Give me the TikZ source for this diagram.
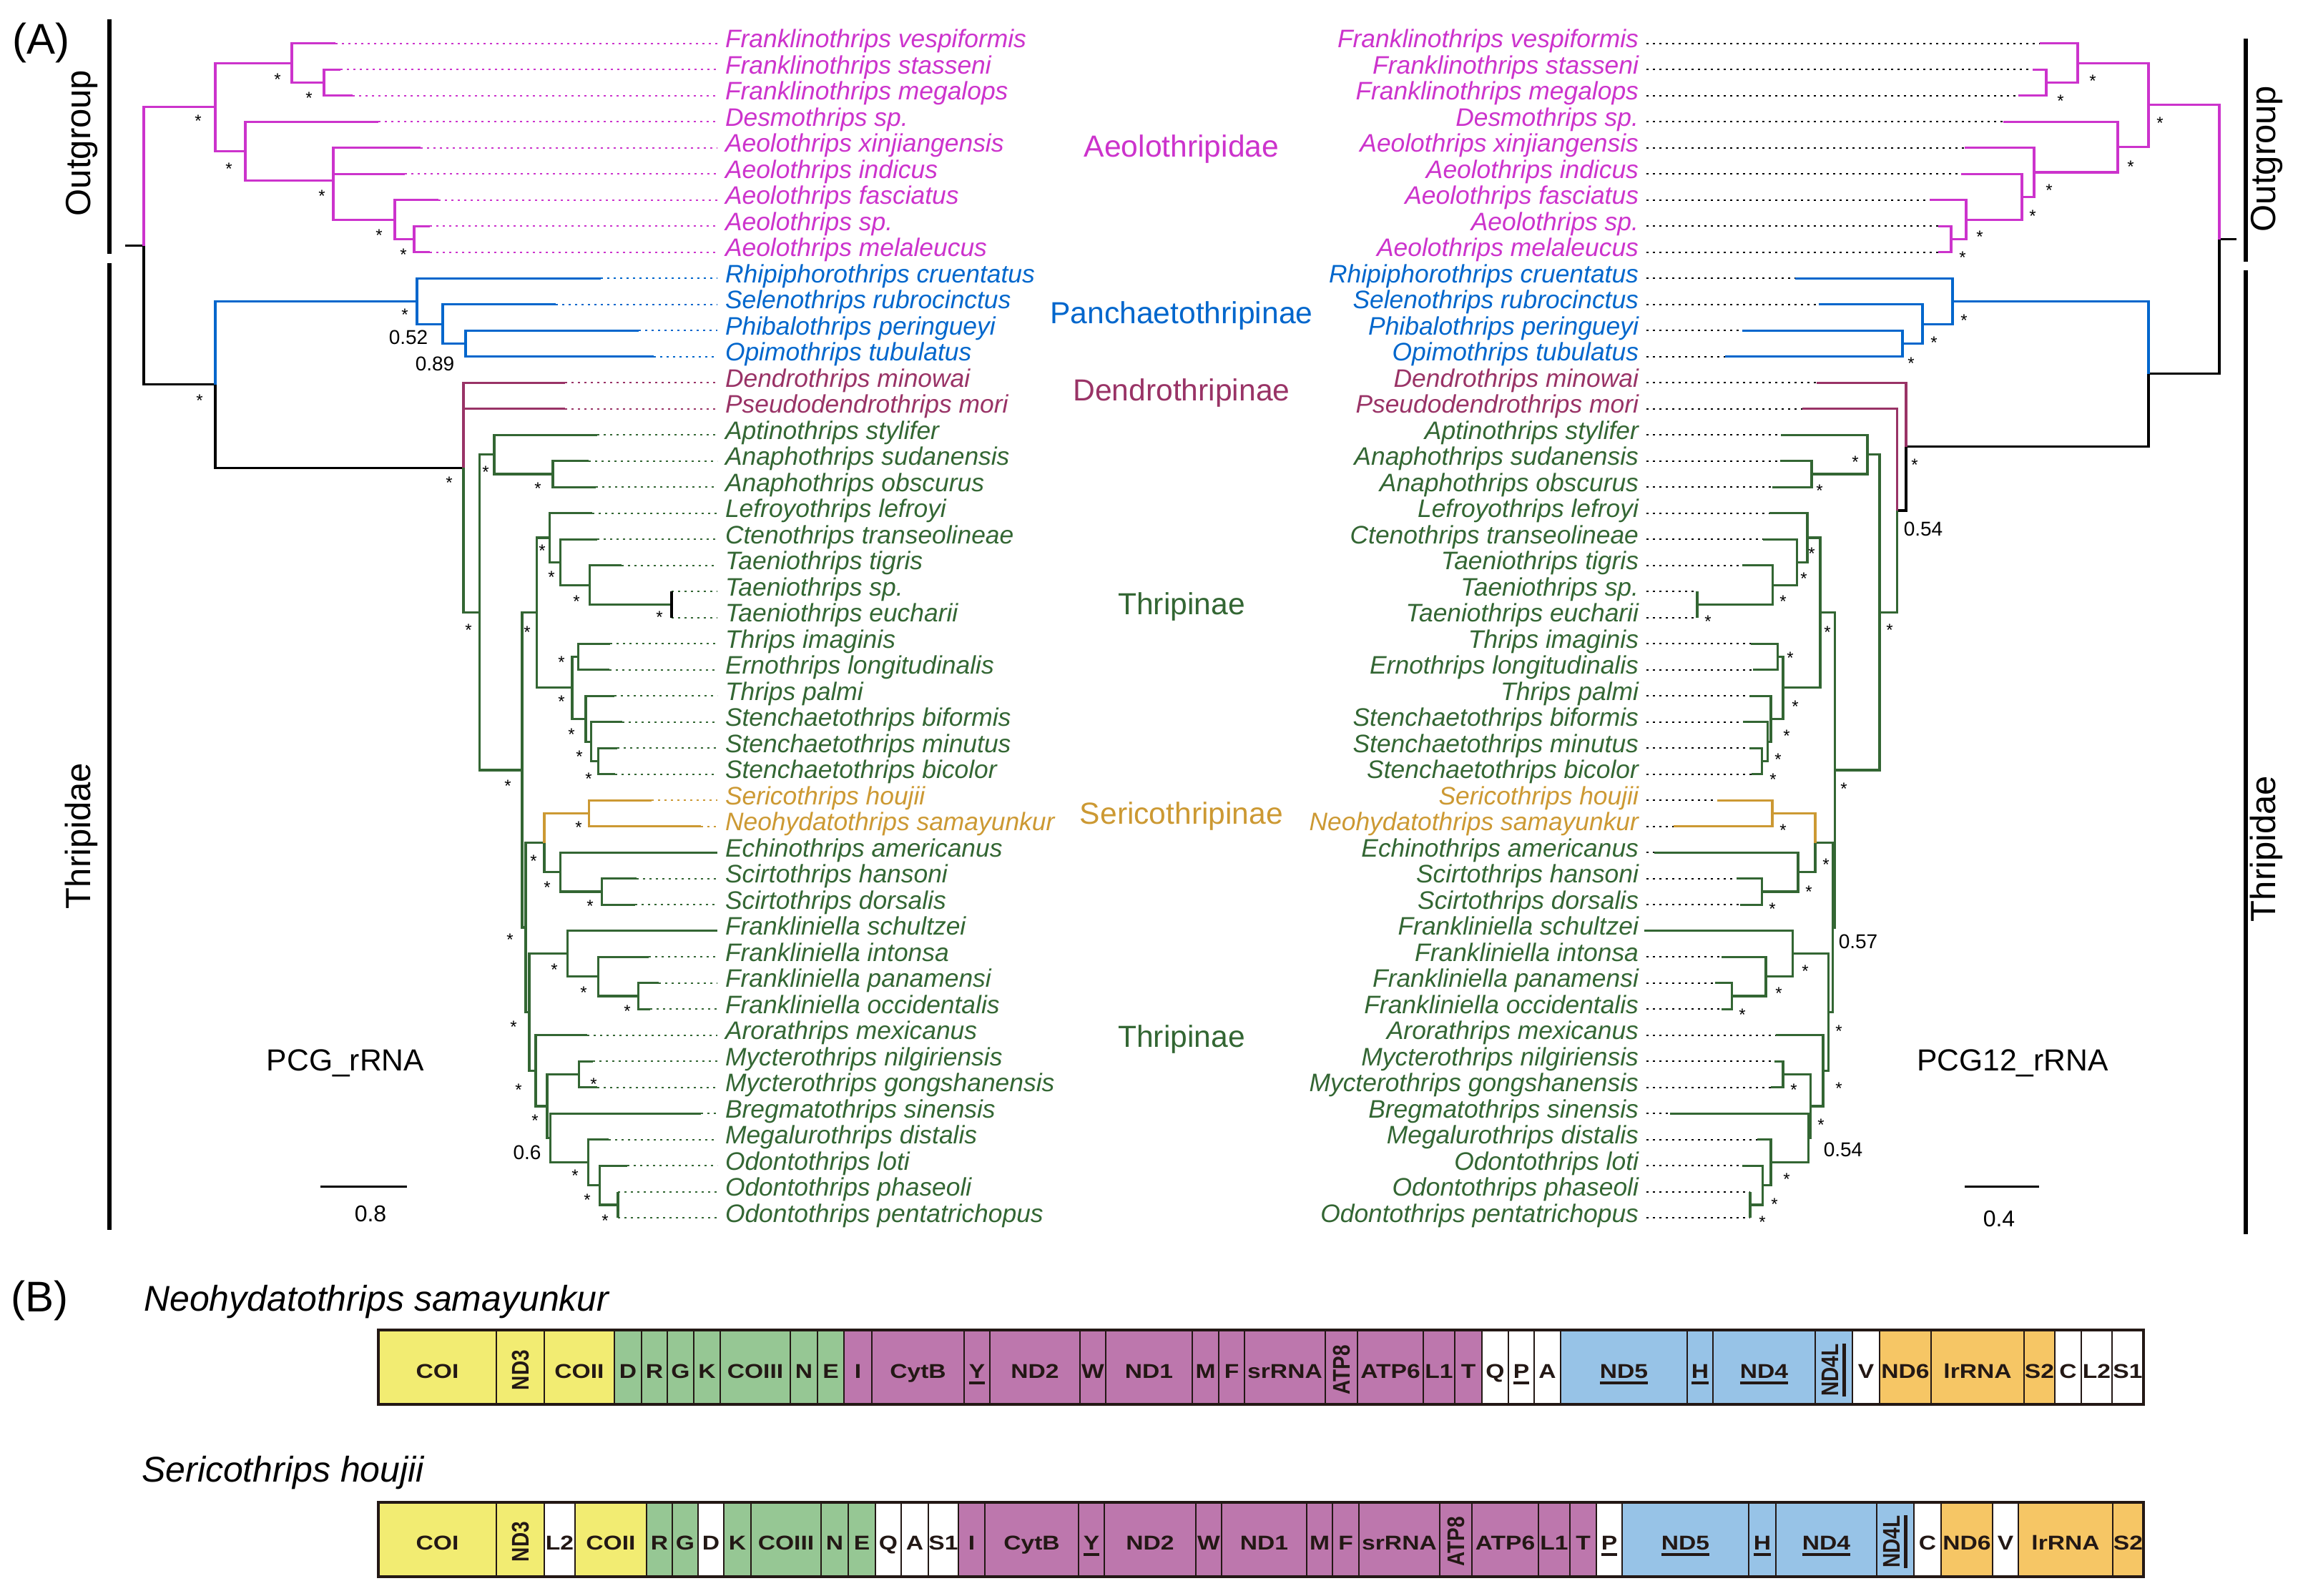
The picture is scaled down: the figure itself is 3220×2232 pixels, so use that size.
\documentclass[tikz,border=0pt]{standalone}
\usepackage{fontspec}
\setmainfont{Liberation Sans}
\definecolor{aeolo}{RGB}{204,51,204}
\definecolor{panch}{RGB}{0,102,204}
\definecolor{dendro}{RGB}{153,51,102}
\definecolor{thrip}{RGB}{51,102,51}
\definecolor{seri}{RGB}{204,153,51}
\definecolor{gy}{RGB}{242,236,114}
\definecolor{gg}{RGB}{150,199,148}
\definecolor{gp}{RGB}{189,119,173}
\definecolor{gb}{RGB}{151,195,231}
\definecolor{go}{RGB}{246,198,101}
\definecolor{gt}{RGB}{35,24,21}
\newcommand\ulg[1]{\vtop{\hbox{#1}\kern5pt\hrule height 3.5pt}}
\begin{document}
\begin{tikzpicture}
      [
      x=1pt, y=-1pt,
      branch/.style={line width=3.2pt, line join=miter},
      dotline/.style={line width=2pt, dash pattern=on 2.7pt off 6.3pt},
      taxon/.style={font=\fontsize{35.4}{36}\selectfont\itshape, inner sep=0pt, outer xsep=11pt},
      clade/.style={font=\fontsize{42.6}{44}\selectfont, inner sep=0pt, anchor=base},
      grouptitle/.style={font=\fontsize{49}{50}\selectfont, inner sep=0pt, rotate=90, anchor=base},
      groupbar/.style={line width=6pt},
      supp/.style={font=\fontsize{24}{24}\selectfont, inner sep=0pt, yshift=-5pt},
      suppnum/.style={font=\fontsize{28}{28}\selectfont, inner sep=0pt},
      panel/.style={font=\fontsize{60}{60}\selectfont, inner sep=0pt, anchor=base west},
      species/.style={font=\fontsize{50}{50}\selectfont\itshape, inner sep=0pt, anchor=base west},
      dataset/.style={font=\fontsize{42.6}{44}\selectfont, inner sep=0pt, anchor=base},
      scalebar/.style={line width=3.5pt},
      scaletext/.style={font=\fontsize{32}{32}\selectfont, inner sep=0pt},
      genesep/.style={draw=gt, line width=2pt},
      gn/.style={font=\fontsize{28}{28}\selectfont\bfseries, text=gt, inner sep=0pt, anchor=base, xscale=1.2},
      gr/.style={font=\fontsize{28}{28}\selectfont\bfseries, text=gt, inner sep=0pt, yshift=11pt, xscale=1.2, rotate=90}
      ]
      \useasboundingbox (0,0) rectangle (3220,2232);

      % taxa: row, left tip, right tip, colour, name
      \foreach \i/\xl/\xr/\col/\name in {
        1/469/2852/aeolo/Franklinothrips vespiformis,
        2/476/2842/aeolo/Franklinothrips stasseni,
        3/493/2822/aeolo/Franklinothrips megalops,
        4/529/2801/aeolo/Desmothrips sp.,
        5/588/2747/aeolo/Aeolothrips xinjiangensis,
        6/566/2742/aeolo/Aeolothrips indicus,
        7/613/2698/aeolo/Aeolothrips fasciatus,
        8/601/2710/aeolo/Aeolothrips sp.,
        9/601/2710/aeolo/Aeolothrips melaleucus,
        10/840/2510/panch/Rhipiphorothrips cruentatus,
        11/777/2543/panch/Selenothrips rubrocinctus,
        12/893/2436/panch/Phibalothrips peringueyi,
        13/914/2412/panch/Opimothrips tubulatus,
        14/790/2540/dendro/Dendrothrips minowai,
        15/790/2520/dendro/Pseudodendrothrips mori,
        16/835/2490/thrip/Aptinothrips stylifer,
        17/823/2489/thrip/Anaphothrips sudanensis,
        18/833/2478/thrip/Anaphothrips obscurus,
        19/828/2474/thrip/Lefroyothrips lefroyi,
        20/835/2465/thrip/Ctenothrips transeolineae,
        21/869/2436/thrip/Taeniothrips tigris,
        22/939/2373/thrip/Taeniothrips sp.,
        23/939/2373/thrip/Taeniothrips eucharii,
        24/853/2448/thrip/Thrips imaginis,
        25/852/2451/thrip/Ernothrips longitudinalis,
        26/859/2446/thrip/Thrips palmi,
        27/870/2437/thrip/Stenchaetothrips biformis,
        28/863/2446/thrip/Stenchaetothrips minutus,
        29/860/2449/thrip/Stenchaetothrips bicolor,
        30/911/2401/seri/Sericothrips houjii,
        31/980/2340/seri/Neohydatothrips samayunkur,
        32/1003/2313/thrip/Echinothrips americanus,
        33/890/2428/thrip/Scirtothrips hansoni,
        34/888/2433/thrip/Scirtothrips dorsalis,
        35/1003/2299/thrip/Frankliniella schultzei,
        36/907/2407/thrip/Frankliniella intonsa,
        37/921/2398/thrip/Frankliniella panamensi,
        38/909/2407/thrip/Frankliniella occidentalis,
        39/821/2483/thrip/Arorathrips mexicanus,
        40/829/2481/thrip/Mycterothrips nilgiriensis,
        41/835/2476/thrip/Mycterothrips gongshanensis,
        42/980/2335/thrip/Bregmatothrips sinensis,
        43/851/2457/thrip/Megalurothrips distalis,
        44/877/2436/thrip/Odontothrips loti,
        45/864/2447/thrip/Odontothrips phaseoli,
        46/864/2447/thrip/Odontothrips pentatrichopus}
        {
        \pgfmathsetmacro\ry{60.7+36.5*(\i-1)}
        \coordinate (tl\i) at (\xl,\ry);
        \coordinate (tr\i) at (\xr,\ry);
        \node [taxon, text=\col, anchor=base west] (nl\i) at (1003,\ry+6) {\name};
        \node [taxon, text=\col, anchor=base east] (nr\i) at (2302,\ry+6) {\name};
        \draw [dotline, draw=\col] (tl\i) -- (tl\i -| nl\i.west);
        \draw [dotline] (tr\i -| nr\i.east) -- (tr\i);
        }

      % left tree (PCG_rRNA)
      \coordinate (Lstub) at (175,343.7);
      \coordinate (LR) at (201,343.7);
      \coordinate (LO) at (301,149.7);
      \coordinate (LF) at (408,88.1);
      \coordinate (LFsm) at (453,115.45);
      \coordinate (LDA) at (343,211.25);
      \coordinate (LA) at (466,252.3);
      \coordinate (LA2) at (552,307.1);
      \coordinate (LA3) at (579,334.45);
      \coordinate (LT) at (301,537.75);
      \coordinate (LP) at (583,421.1);
      \coordinate (LP2) at (619,453.1);
      \coordinate (LP3) at (651,480.45);
      \coordinate (LTh) at (648,654.4);
      \coordinate (LTr) at (670.7,856.25);
      \coordinate (LAp) at (691,635.6);
      \coordinate (LAn) at (773,662.95);
      \coordinate (LB) at (730,1076.9);
      \coordinate (LLe) at (750.7,856.85);
      \coordinate (LLf) at (768.3,751.9);
      \coordinate (LCt) at (783.3,786.1);
      \coordinate (LTa) at (824.3,818.1);
      \coordinate (LTe) at (939,845.45);
      \coordinate (LTp) at (800,961.8);
      \coordinate (LTi) at (808.3,918.45);
      \coordinate (LTpa) at (819,1005.1);
      \coordinate (LSt) at (826.7,1037.1);
      \coordinate (LSt2) at (836.7,1064.45);
      \coordinate (LC) at (735,1297);
      \coordinate (LSe) at (761,1178.5);
      \coordinate (LSeri) at (823.3,1137.45);
      \coordinate (LEc) at (783.3,1219.6);
      \coordinate (LSc) at (841.7,1246.95);
      \coordinate (LD) at (740,1415.5);
      \coordinate (LFr) at (793.3,1333.65);
      \coordinate (LFr2) at (836.7,1365.6);
      \coordinate (LFr3) at (892.7,1392.95);
      \coordinate (LE) at (749,1497.3);
      \coordinate (LG) at (765,1546.9);
      \coordinate (LMy) at (809.3,1502.45);
      \coordinate (LH) at (769.3,1591.4);
      \coordinate (LMe) at (822.7,1625.65);
      \coordinate (LOd) at (838.3,1657.6);
      \coordinate (LOd2) at (864,1684.95);

      \draw [branch] (Lstub) -- (LR);
      \foreach \p/\c in {LR/LO, LO/LF, LO/LDA, LF/tl1, LF/LFsm, LFsm/tl2, LFsm/tl3, LDA/tl4, LDA/LA,
        LA/tl5, LA/tl6, LA/LA2, LA2/tl7, LA2/LA3, LA3/tl8, LA3/tl9}
        \draw [branch, aeolo] (\p) |- (\c);
      \foreach \p/\c in {LR/LT, LT/LTh}
        \draw [branch] (\p) |- (\c);
      \foreach \p/\c in {LT/LP, LP/tl10, LP/LP2, LP2/tl11, LP2/LP3, LP3/tl12, LP3/tl13}
        \draw [branch, panch] (\p) |- (\c);
      \foreach \p/\c in {LTh/tl14, LTh/tl15}
        \draw [branch, dendro] (\p) |- (\c);
      \foreach \p/\c in {LTh/LTr, LTr/LAp, LAp/tl16, LAp/LAn, LAn/tl17, LAn/tl18, LTr/LB, LB/LLe,
        LLe/LLf, LLf/tl19, LLf/LCt, LCt/tl20, LCt/LTa, LTa/tl21, LTa/LTe, LLe/LTp, LTp/LTi,
        LTi/tl24, LTi/tl25, LTp/LTpa, LTpa/tl26, LTpa/LSt, LSt/tl27, LSt/LSt2, LSt2/tl28,
        LSt2/tl29, LB/LC, LC/LSe, LSe/LEc, LEc/tl32, LEc/LSc, LSc/tl33, LSc/tl34, LC/LD, LD/LFr,
        LFr/tl35, LFr/LFr2, LFr2/tl36, LFr2/LFr3, LFr3/tl37, LFr3/tl38, LD/LE, LE/tl39, LE/LG,
        LG/LMy, LMy/tl40, LMy/tl41, LG/LH, LH/tl42, LH/LMe, LMe/tl43, LMe/LOd, LOd/tl44,
        LOd/LOd2, LOd2/tl45, LOd2/tl46}
        \draw [branch, thrip] (\p) |- (\c);
      \foreach \p/\c in {LSe/LSeri, LSeri/tl30, LSeri/tl31}
        \draw [branch, seri] (\p) |- (\c);
      \draw [branch, line width=4.5pt] (tl22) -- (tl23);

      % right tree (PCG12_rRNA)
      \coordinate (Rstub) at (3127,334.8);
      \coordinate (RR) at (3103,334.8);
      \coordinate (RO) at (3004,146.8);
      \coordinate (RF) at (2905,88.1);
      \coordinate (RFsm) at (2861,115.45);
      \coordinate (RDA) at (2961,205.55);
      \coordinate (RA) at (2844,240.9);
      \coordinate (RA2) at (2827,275.15);
      \coordinate (RA3) at (2749,307.1);
      \coordinate (RA4) at (2728,334.45);
      \coordinate (RT) at (3004,522.85);
      \coordinate (RP) at (2730,421.1);
      \coordinate (RP2) at (2688,453.1);
      \coordinate (RP3) at (2660,480.45);
      \coordinate (RTh) at (2665,624.6);
      \coordinate (RTh2) at (2652.7,714);
      \coordinate (RTr) at (2628,856.25);
      \coordinate (RAp) at (2611,635.6);
      \coordinate (RAn) at (2533,662.95);
      \coordinate (RB) at (2565.7,1076.9);
      \coordinate (RLe) at (2545,856.85);
      \coordinate (RLf) at (2527,751.9);
      \coordinate (RCt) at (2512.3,786.1);
      \coordinate (RTa) at (2478.3,818.1);
      \coordinate (RTe) at (2373,845.45);
      \coordinate (RTp) at (2493,961.8);
      \coordinate (RTi) at (2485.5,918.45);
      \coordinate (RTpa) at (2476,1005.1);
      \coordinate (RSt) at (2471.7,1037.1);
      \coordinate (RSt2) at (2463.3,1064.45);
      \coordinate (RC) at (2562.7,1297);
      \coordinate (RSe) at (2538,1178.5);
      \coordinate (RSeri) at (2478,1137.45);
      \coordinate (REc) at (2514,1219.6);
      \coordinate (RSc) at (2463.5,1246.95);
      \coordinate (RD) at (2556.7,1415.5);
      \coordinate (RFr) at (2506.6,1333.65);
      \coordinate (RFr2) at (2469,1365.6);
      \coordinate (RFr3) at (2421.4,1392.95);
      \coordinate (RE) at (2549,1497.3);
      \coordinate (RG) at (2531.5,1546.9);
      \coordinate (RMy) at (2493,1502.45);
      \coordinate (RH) at (2528.6,1591.4);
      \coordinate (RMe) at (2476,1625.65);
      \coordinate (ROd) at (2464.5,1657.6);
      \coordinate (ROd2) at (2447,1684.95);

      \draw [branch] (RR) -- (Rstub);
      \foreach \p/\c in {RR/RO, RO/RF, RO/RDA, RF/tr1, RF/RFsm, RFsm/tr2, RFsm/tr3, RDA/tr4, RDA/RA,
        RA/tr5, RA/RA2, RA2/tr6, RA2/RA3, RA3/tr7, RA3/RA4, RA4/tr8, RA4/tr9}
        \draw [branch, aeolo] (\p) |- (\c);
      \foreach \p/\c in {RR/RT, RT/RTh, RTh/RTh2}
        \draw [branch] (\p) |- (\c);
      \foreach \p/\c in {RT/RP, RP/tr10, RP/RP2, RP2/tr11, RP2/RP3, RP3/tr12, RP3/tr13}
        \draw [branch, panch] (\p) |- (\c);
      \foreach \p/\c in {RTh/tr14, RTh2/tr15}
        \draw [branch, dendro] (\p) |- (\c);
      \foreach \p/\c in {RTh2/RTr, RTr/RAp, RAp/tr16, RAp/RAn, RAn/tr17, RAn/tr18, RTr/RB, RB/RLe,
        RLe/RLf, RLf/tr19, RLf/RCt, RCt/tr20, RCt/RTa, RTa/tr21, RTa/RTe, RTe/tr22, RTe/tr23,
        RLe/RTp, RTp/RTi, RTi/tr24, RTi/tr25, RTp/RTpa, RTpa/tr26, RTpa/RSt, RSt/tr27, RSt/RSt2,
        RSt2/tr28, RSt2/tr29, RB/RC, RC/RSe, RSe/REc, REc/tr32, REc/RSc, RSc/tr33, RSc/tr34,
        RC/RD, RD/RFr, RFr/tr35, RFr/RFr2, RFr2/tr36, RFr2/RFr3, RFr3/tr37, RFr3/tr38, RD/RE,
        RE/tr39, RE/RG, RG/RMy, RMy/tr40, RMy/tr41, RG/RH, RH/tr42, RH/RMe, RMe/tr43, RMe/ROd,
        ROd/tr44, ROd/ROd2, ROd2/tr45, ROd2/tr46}
        \draw [branch, thrip] (\p) |- (\c);
      \foreach \p/\c in {RSe/RSeri, RSeri/tr30, RSeri/tr31}
        \draw [branch, seri] (\p) |- (\c);

      % support values
      \foreach \x/\y [count=\k] in {388/106, 432/132, 277/164, 320/231, 450/269, 530/324, 564/351,
        279/555, 566/435, 628/670, 679/655, 752/678, 655/876, 737/879, 758/765, 771/802, 806/836,
        922/858, 785/921, 785/976, 799/1022, 810/1053, 823/1084, 710/1094, 713/1309, 746/1199,
        809/1152, 765/1236, 825/1262, 718/1431, 775/1351, 816/1383, 877/1409, 725/1519, 748/1562,
        830/1511, 804/1639, 821/1673, 846/1702}
        \node [supp] (sl\k) at (\x,\y) {*};
      \foreach \x/\y [count=\k] in {2881/136, 2926/108, 3020/167, 2979/228, 2865/261, 2842/297,
        2768/326, 2744/355, 2746/443, 2704/474, 2672/503, 2677/645, 2642/876, 2594/641, 2544/681,
        2555/879, 2533/769, 2522/804, 2493/836, 2388/864, 2503/915, 2510/983, 2498/1024,
        2486/1057, 2479/1085, 2578/1098, 2553/1204, 2493/1156, 2529/1242, 2478/1266, 2524/1353,
        2487/1384, 2436/1414, 2571/1437, 2571/1517, 2546/1568, 2508/1519, 2498/1644, 2481/1679,
        2464/1704}
        \node [supp] (sr\k) at (\x,\y) {*};
      \node [suppnum] (pl1) at (571,472) {0.52};
      \node [suppnum] (pl2) at (608,509) {0.89};
      \node [suppnum] (pl3) at (737,1612) {0.6};
      \node [suppnum] (pr1) at (2689,740) {0.54};
      \node [suppnum] (pr2) at (2598,1317) {0.57};
      \node [suppnum] (pr3) at (2577,1608) {0.54};

      % clade names
      \node [clade, text=aeolo] (cAeo) at (1652,219) {Aeolothripidae};
      \node [clade, text=panch] (cPan) at (1652,452) {Panchaetothripinae};
      \node [clade, text=dendro] (cDen) at (1652,560) {Dendrothripinae};
      \node [clade, text=thrip] (cThr) at (1652,859) {Thripinae};
      \node [clade, text=seri] (cSer) at (1652,1152) {Sericothripinae};
      \node [clade, text=thrip] (cThr2) at (1652,1464) {Thripinae};

      % group bars and titles
      \coordinate (ogL1) at (153,27);
      \coordinate (ogL2) at (153,355);
      \coordinate (thL1) at (153,368);
      \coordinate (thL2) at (153,1720);
      \coordinate (ogR1) at (3140,54);
      \coordinate (ogR2) at (3140,366);
      \coordinate (thR1) at (3140,378);
      \coordinate (thR2) at (3140,1726);
      \draw [groupbar] (ogL1) -- (ogL2);
      \draw [groupbar] (thL1) -- (thL2);
      \draw [groupbar] (ogR1) -- (ogR2);
      \draw [groupbar] (thR1) -- (thR2);
      \node [grouptitle] (tOgL) at (126,200) {Outgroup};
      \node [grouptitle] (tThL) at (126,1169) {Thripidae};
      \node [grouptitle] (tOgR) at (3181,222) {Outgroup};
      \node [grouptitle] (tThR) at (3181,1187) {Thripidae};

      % data sets and scale bars
      \node [dataset] (dsL) at (483,1497) {PCG\_rRNA};
      \node [dataset] (dsR) at (2814,1497) {PCG12\_rRNA};
      \coordinate (sbL1) at (448,1659.5);
      \coordinate (sbL2) at (569,1659.5);
      \coordinate (sbR1) at (2747,1659.5);
      \coordinate (sbR2) at (2851,1659.5);
      \draw [scalebar] (sbL1) -- (sbL2);
      \draw [scalebar] (sbR1) -- (sbR2);
      \node [scaletext] (sbLt) at (518,1697) {0.8};
      \node [scaletext] (sbRt) at (2795,1704) {0.4};

      \node [panel] (pA) at (17,75) {(A)};
      \node [panel] (pB) at (15,1834) {(B)};

      % gene order (B)
      \node [species] (spN) at (201,1833) {Neohydatothrips samayunkur};
      \node [species] (spS) at (198,2072) {Sericothrips houjii};
      \foreach \a/\b/\c/\s/\t [count=\k] in {
        529/694/gy/gn/COI, 694/761/gy/gr/ND3, 761/859/gy/gn/COII, 859/897/gg/gn/D,
        897/933/gg/gn/R, 933/970/gg/gn/G, 970/1007/gg/gn/K, 1007/1105/gg/gn/COIII,
        1105/1143/gg/gn/N, 1143/1180/gg/gn/E, 1180/1219/gp/gn/I, 1219/1348/gp/gn/CytB,
        1348/1384/gp/gn/\ulg{Y}, 1384/1510/gp/gn/ND2, 1510/1546/gp/gn/W, 1546/1667/gp/gn/ND1,
        1667/1704/gp/gn/M, 1704/1740/gp/gn/F, 1740/1853/gp/gn/srRNA, 1853/1898/gp/gr/ATP8,
        1898/1990/gp/gn/ATP6, 1990/2034/gp/gn/L1, 2034/2072/gp/gn/T, 2072/2109/white/gn/Q,
        2109/2145/white/gn/\ulg{P}, 2145/2182/white/gn/A, 2182/2359/gb/gn/\ulg{ND5},
        2359/2395/gb/gn/\ulg{H}, 2395/2538/gb/gn/\ulg{ND4}, 2538/2590/gb/gr/\ulg{ND4L},
        2590/2628/white/gn/V, 2628/2700/go/gn/ND6, 2700/2830/go/gn/lrRNA, 2830/2873/go/gn/S2,
        2873/2910/white/gn/C, 2910/2953/white/gn/L2, 2953/2997/white/gn/S1}
        {
        \draw [genesep, fill=\c] (\a,1860) rectangle (\b,1964);
        \node [\s] (ga\k) at ({(\a+\b)/2},1927) {\t};
        }
      \draw [draw=gt, line width=4pt] (529,1860) rectangle (2997,1964);
      \foreach \a/\b/\c/\s/\t [count=\k] in {
        529/694/gy/gn/COI, 694/761/gy/gr/ND3, 761/804/white/gn/L2, 804/904/gy/gn/COII,
        904/940/gg/gn/R, 940/976/gg/gn/G, 976/1012/white/gn/D, 1012/1050/gg/gn/K,
        1050/1148/gg/gn/COIII, 1148/1186/gg/gn/N, 1186/1224/gg/gn/E, 1224/1260/white/gn/Q,
        1260/1298/white/gn/A, 1298/1340/white/gn/S1, 1340/1377/gp/gn/I, 1377/1508/gp/gn/CytB,
        1508/1544/gp/gn/\ulg{Y}, 1544/1672/gp/gn/ND2, 1672/1708/gp/gn/W, 1708/1827/gp/gn/ND1,
        1827/1863/gp/gn/M, 1863/1900/gp/gn/F, 1900/2013/gp/gn/srRNA, 2013/2058/gp/gr/ATP8,
        2058/2151/gp/gn/ATP6, 2151/2195/gp/gn/L1, 2195/2232/gp/gn/T, 2232/2268/white/gn/\ulg{P},
        2268/2445/gb/gn/\ulg{ND5}, 2445/2483/gb/gn/\ulg{H}, 2483/2624/gb/gn/\ulg{ND4},
        2624/2676/gb/gr/\ulg{ND4L}, 2676/2714/white/gn/C, 2714/2786/go/gn/ND6,
        2786/2822/white/gn/V, 2822/2954/go/gn/lrRNA, 2954/2997/go/gn/S2}
        {
        \draw [genesep, fill=\c] (\a,2101) rectangle (\b,2205);
        \node [\s] (gb\k) at ({(\a+\b)/2},2167) {\t};
        }
      \draw [draw=gt, line width=4pt] (529,2101) rectangle (2997,2205);
    \end{tikzpicture}
\end{document}
